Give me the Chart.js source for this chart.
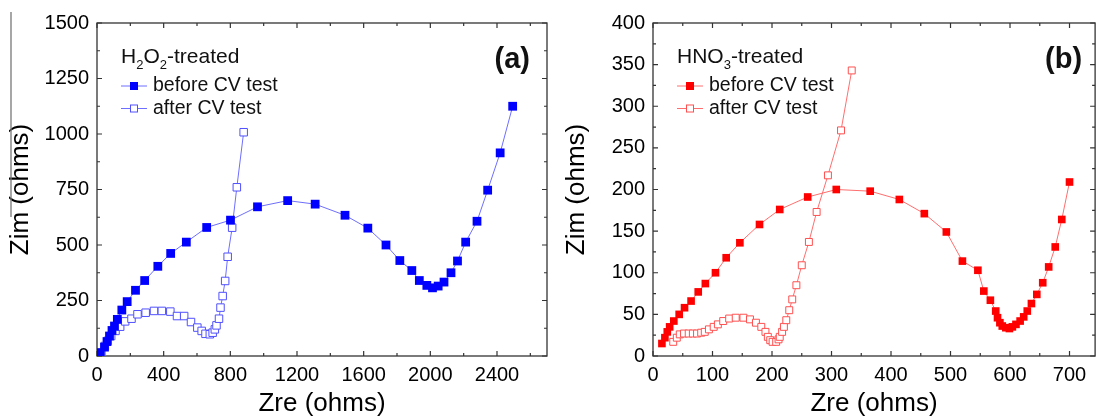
<!DOCTYPE html>
<html>
<head>
<meta charset="utf-8">
<script src="https://cdn.jsdelivr.net/npm/chart.js@4.4.1/dist/chart.umd.min.js"></script>
<style>
html, body { margin: 0; padding: 0; background: #fff; overflow: hidden; width: 1097px; height: 419px; }
#left { position: absolute; left: 0; top: 0; width: 556px; height: 419px; }
#right { position: absolute; left: 556px; top: 0; width: 545px; height: 419px; }
</style>
</head>
<body>
<div id="left"><canvas id="chartA"></canvas></div>
<div id="right"><canvas id="chartB"></canvas></div>
<script>
// (a) H2O2-treated
let h2o2BeforeX = [20, 45, 60, 75, 90, 105, 122, 149, 181, 231, 286, 365, 442, 536, 658, 801, 963, 1144, 1309, 1488, 1625, 1734, 1817, 1889, 1934, 1979, 2013, 2047, 2082, 2124, 2163, 2212, 2280, 2344, 2419, 2494];
let h2o2BeforeY = [15, 40, 65, 90, 115, 135, 165, 207, 245, 296, 340, 404, 462, 513, 579, 612, 672, 700, 684, 634, 576, 500, 430, 385, 340, 318, 307, 315, 333, 375, 428, 513, 607, 747, 915, 1125];
let h2o2AfterX = [26, 47, 64, 85, 111, 139, 169, 207, 243, 292, 342, 389, 440, 480, 523, 564, 602, 628, 651, 677, 694, 707, 717, 732, 741, 754, 769, 784, 811, 839, 880];
let h2o2AfterY = [15, 45, 68, 90, 113, 132, 156, 168, 188, 195, 203, 203, 200, 180, 180, 153, 128, 113, 100, 98, 105, 120, 138, 168, 218, 270, 338, 447, 578, 760, 1008];
let h2o2XTicks = [0, 400, 800, 1200, 1600, 2000, 2400];
let h2o2YTicks = [0, 250, 500, 750, 1000, 1250, 1500];

// (b) HNO3-treated
let hno3BeforeX = [15, 20, 24, 28, 35, 44, 53, 64, 76, 88, 105, 123, 146, 179, 213, 260, 308, 365, 414, 456, 493, 520, 546, 556, 567, 576, 579, 583, 587, 593, 599, 604, 610, 617, 623, 629, 636, 645, 655, 665, 676, 687, 700];
let hno3BeforeY = [15, 22, 29, 35, 42, 50, 58, 66, 77, 87, 100, 118, 136, 158, 176, 191, 200, 198, 188, 171, 149, 114, 103, 78, 67, 54, 46, 40, 36, 34, 33, 35, 38, 42, 47, 54, 63, 74, 88, 107, 131, 164, 209];
let hno3AfterX = [34, 40, 45, 52, 60, 67, 74, 81, 87, 94, 102, 109, 118, 128, 139, 152, 163, 173, 182, 189, 193, 197, 201, 207, 211, 213, 217, 220, 224, 229, 234, 241, 250, 262, 275, 294, 316, 334];
let hno3AfterY = [17, 22, 26, 27, 27, 27, 27, 28, 29, 32, 35, 38, 42, 45, 46, 46, 44, 40, 35, 29, 23, 19, 17, 17, 20, 23, 29, 35, 43, 55, 68, 85, 109, 137, 173, 217, 271, 343];
let hno3XTicks = [0, 100, 200, 300, 400, 500, 600, 700];
let hno3YTicks = [0, 50, 100, 150, 200, 250, 300, 350, 400];

let seriesNames = ["before CV test", "after CV test"];

const FONT = '"Liberation Sans", Arial, Helvetica, sans-serif';

function toPoints(xs, ys) {
    return xs.map((x, i) => ({x: x, y: ys[i]}));
}

function drawRich(ctx, parts, x, y, size) {
    // parts: [text, isSubscript]
    let cx = x;
    parts.forEach(p => {
        if (p[1]) {
            ctx.font = Math.round(size * 0.62) + "px " + FONT;
            ctx.fillText(p[0], cx, y + size * 0.28);
        } else {
            ctx.font = size + "px " + FONT;
            ctx.fillText(p[0], cx, y);
        }
        cx += ctx.measureText(p[0]).width;
    });
}

const frameTicks = {
    id: 'frameTicks',
    beforeDatasetsDraw(chart, args, o) {
        const ctx = chart.ctx;
        const a = chart.chartArea;
        const xs = chart.scales.x, ys = chart.scales.y;
        ctx.save();
        ctx.strokeStyle = '#333';
        ctx.lineWidth = 1.3;
        ctx.strokeRect(a.left, a.top, a.right - a.left, a.bottom - a.top);
        ctx.lineWidth = 1.2;
        ctx.beginPath();
        for (let v = xs.min; v <= xs.max + 0.001; v += o.xMinor) {
            let px = xs.getPixelForValue(v);
            let len = (Math.round(v) % o.xMajor === 0) ? 5 : 3;
            ctx.moveTo(px, a.bottom); ctx.lineTo(px, a.bottom - len);
            ctx.moveTo(px, a.top); ctx.lineTo(px, a.top + len);
        }
        for (let v = ys.min; v <= ys.max + 0.001; v += o.yMinor) {
            let py = ys.getPixelForValue(v);
            let len = (Math.round(v) % o.yMajor === 0) ? 5 : 3;
            ctx.moveTo(a.left, py); ctx.lineTo(a.left + len, py);
            ctx.moveTo(a.right, py); ctx.lineTo(a.right - len, py);
        }
        ctx.stroke();
        ctx.restore();
    },
    afterDraw(chart, args, o) {
        const ctx = chart.ctx;
        const a = chart.chartArea;
        const ds = chart.data.datasets;
        ctx.save();
        ctx.fillStyle = '#111';
        ctx.textBaseline = 'alphabetic';
        ctx.textAlign = 'left';
        drawRich(ctx, o.header, a.left + 24, a.top + 40, 21);
        ds.forEach((d, i) => {
            let y = a.top + 63 + i * 22.5;
            let x0 = a.left + 24;
            ctx.strokeStyle = d.borderColor;
            ctx.lineWidth = 1;
            ctx.beginPath();
            ctx.moveTo(x0, y); ctx.lineTo(x0 + 26, y);
            ctx.stroke();
            ctx.fillStyle = d.pointBackgroundColor;
            ctx.strokeStyle = d.pointBorderColor;
            ctx.fillRect(x0 + 9, y - 4, 8, 8);
            ctx.strokeRect(x0 + 9.5, y - 3.5, 7, 7);
            ctx.fillStyle = '#111';
            ctx.font = "19.5px " + FONT;
            ctx.textBaseline = 'middle';
            ctx.fillText(d.label, x0 + 32, y);
            ctx.textBaseline = 'alphabetic';
        });
        ctx.font = "bold 29px " + FONT;
        ctx.textAlign = 'right';
        ctx.fillText(o.tag, a.right - o.tagRight, a.top + 45);
        if (o.scanLine) {
            ctx.strokeStyle = '#777';
            ctx.lineWidth = 1.3;
            ctx.beginPath();
            ctx.moveTo(11, 12); ctx.lineTo(11, 217);
            ctx.stroke();
        }
        ctx.restore();
    }
};

function makeChart(id, cfg) {
    return new Chart(document.getElementById(id), {
        type: 'scatter',
        data: {
            datasets: [{
                label: seriesNames[0],
                data: cfg.before,
                showLine: true,
                borderColor: cfg.lineColor,
                borderWidth: 1,
                pointStyle: 'rect',
                pointRadius: cfg.radius,
                pointBackgroundColor: cfg.color,
                pointBorderColor: cfg.color,
                pointBorderWidth: 0
            }, {
                label: seriesNames[1],
                data: cfg.after,
                showLine: true,
                borderColor: cfg.lineColor,
                borderWidth: 1,
                pointStyle: 'rect',
                pointRadius: cfg.openRadius,
                pointBackgroundColor: '#ffffff',
                pointBorderColor: cfg.openColor,
                pointBorderWidth: 1
            }]
        },
        options: {
            responsive: true,
            maintainAspectRatio: false,
            animation: false,
            devicePixelRatio: 1,
            layout: {padding: {top: 23, right: cfg.padRight, left: 0, bottom: 0}},
            plugins: {
                legend: {display: false},
                tooltip: {enabled: false},
                frameTicks: cfg.frame
            },
            scales: {
                x: {
                    type: 'linear',
                    min: 0, max: cfg.xMax,
                    grid: {display: false, drawTicks: false},
                    border: {display: false},
                    afterFit(s) { s.height = 63; },
                    afterBuildTicks(s) { s.ticks = cfg.xTicks.map(v => ({value: v})); },
                    ticks: {
                        padding: 7, maxRotation: 0, autoSkip: false,
                        color: '#000', font: {family: FONT, size: 20},
                        callback: v => String(v)
                    },
                    title: {display: true, text: 'Zre (ohms)', color: '#000', font: {family: FONT, size: 26}, padding: {top: 0, bottom: 0}}
                },
                y: {
                    type: 'linear',
                    min: 0, max: cfg.yMax,
                    grid: {display: false, drawTicks: false},
                    border: {display: false},
                    afterFit(s) { s.width = 97; },
                    afterBuildTicks(s) { s.ticks = cfg.yTicks.map(v => ({value: v})); },
                    ticks: {
                        padding: 8, autoSkip: false,
                        color: '#000', font: {family: FONT, size: 20},
                        callback: v => String(v)
                    },
                    title: {display: true, text: 'Zim (ohms)', color: '#000', font: {family: FONT, size: 26}, padding: {top: 5, bottom: 0}}
                }
            }
        },
        plugins: [frameTicks]
    });
}

makeChart('chartA', {
    before: toPoints(h2o2BeforeX, h2o2BeforeY),
    after: toPoints(h2o2AfterX, h2o2AfterY),
    color: 'rgb(0,0,255)', openColor: 'rgb(80,80,255)', lineColor: 'rgb(110,110,255)',
    radius: 6.2, openRadius: 5.3, padRight: 9,
    xMax: 2700, yMax: 1500, xTicks: h2o2XTicks, yTicks: h2o2YTicks,
    frame: {xMajor: 400, xMinor: 200, yMajor: 250, yMinor: 125,
        header: [['H', 0], ['2', 1], ['O', 0], ['2', 1], ['-treated', 0]],
        tag: '(a)', tagRight: 17, scanLine: true}
});

makeChart('chartB', {
    before: toPoints(hno3BeforeX, hno3BeforeY),
    after: toPoints(hno3AfterX, hno3AfterY),
    color: 'rgb(255,0,0)', openColor: 'rgb(255,80,80)', lineColor: 'rgb(255,110,110)',
    radius: 5.4, openRadius: 4.9, padRight: 2,
    xMax: 743, yMax: 400, xTicks: hno3XTicks, yTicks: hno3YTicks,
    frame: {xMajor: 100, xMinor: 50, yMajor: 50, yMinor: 25,
        header: [['HNO', 0], ['3', 1], ['-treated', 0]],
        tag: '(b)', tagRight: 13, scanLine: false}
});
</script>
</body>
</html>
